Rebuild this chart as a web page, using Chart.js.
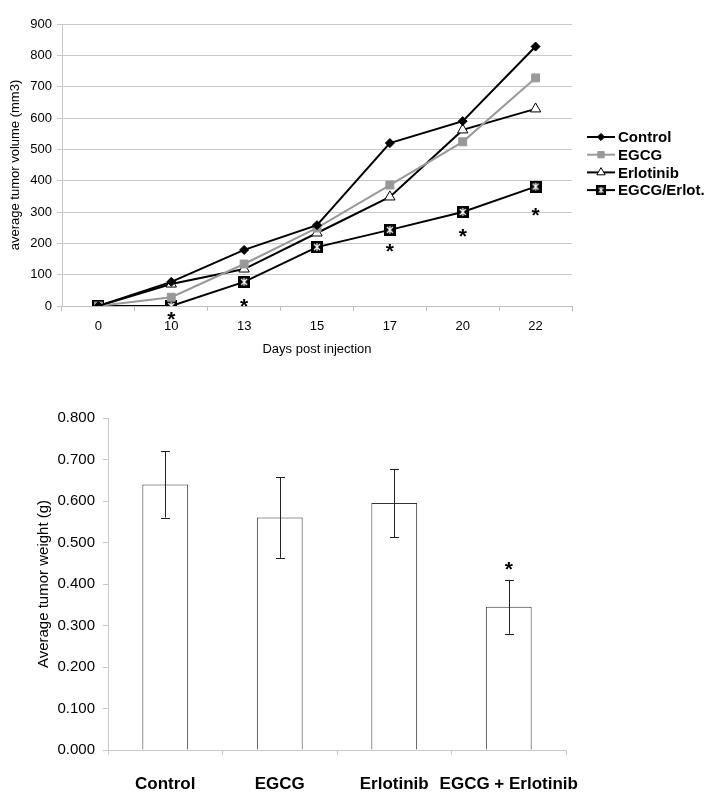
<!DOCTYPE html>
<html>
<head>
<meta charset="utf-8">
<script src="https://cdn.jsdelivr.net/npm/chart.js@4.4.1/dist/chart.umd.min.js"></script>
<style>
  body { margin: 0; background: #fff; }
  canvas { display: block; }
</style>
</head>
<body>
<canvas id="volumeChart" width="712" height="365"></canvas>
<canvas id="weightChart" width="712" height="431"></canvas>
<script>
// tumor volume (top)
var days = ['0', '10', '13', '15', '17', '20', '22'];
var control = [0, 77, 179, 258, 520, 590, 828];
var egcg = [0, 28, 134, 249, 386, 524, 728];
var erlotinib = [0, 70, 118, 233, 348, 562, 629];
var combo = [0, 0, 77, 188, 243, 300, 381];
var volumeStars = [null, -32, 10, null, 185, 233, 300];

// tumor weight (bottom)
var groups = ['Control', 'EGCG', 'Erlotinib', 'EGCG + Erlotinib'];
var weights = [0.640, 0.560, 0.595, 0.345];
var weightErr = [0.080, 0.097, 0.082, 0.065];
var weightStars = [null, null, null, 0.443];

Chart.defaults.font.family = "'Liberation Sans', Arial, sans-serif";
Chart.defaults.color = '#000';
Chart.defaults.animation = false;

function comboMarker(size) {
  var c = document.createElement('canvas');
  c.width = size; c.height = size;
  var g = c.getContext('2d');
  g.fillStyle = '#000';
  g.fillRect(0, 0, size, size);
  g.strokeStyle = '#fff';
  g.lineWidth = 1.2;
  var p = size * 0.25, q = size - p;
  g.beginPath();
  g.moveTo(p, p); g.lineTo(q, q);
  g.moveTo(q, p); g.lineTo(p, q);
  g.moveTo(size / 2, p - 1); g.lineTo(size / 2, q + 1);
  g.stroke();
  return c;
}

function drawMarker(ctx, ds, x, y, k) {
  var r = ds.pointRadius * k;
  ctx.save();
  ctx.fillStyle = ds.pointBackgroundColor;
  ctx.strokeStyle = ds.pointBorderColor;
  ctx.lineWidth = 1;
  if (ds.pointStyle instanceof HTMLCanvasElement) {
    var s = ds.pointStyle.width * k;
    ctx.drawImage(ds.pointStyle, x - s / 2, y - s / 2, s, s);
  } else {
    ctx.beginPath();
    if (ds.pointStyle === 'rectRot') {
      ctx.moveTo(x, y - r); ctx.lineTo(x + r, y); ctx.lineTo(x, y + r); ctx.lineTo(x - r, y);
    } else if (ds.pointStyle === 'rect') {
      var h = r * Math.SQRT1_2;
      ctx.rect(x - h, y - h, 2 * h, 2 * h);
    } else {
      ctx.moveTo(x, y - r); ctx.lineTo(x + r * 0.866, y + r * 0.5); ctx.lineTo(x - r * 0.866, y + r * 0.5);
    }
    ctx.closePath();
    ctx.fill();
    ctx.stroke();
  }
  ctx.restore();
}

function drawStars(chart, stars, size) {
  var ctx = chart.ctx, xs = chart.scales.x, ys = chart.scales.y;
  ctx.save();
  ctx.font = 'bold ' + size + "px 'Liberation Sans', Arial, sans-serif";
  ctx.fillStyle = '#000';
  ctx.textAlign = 'center';
  ctx.textBaseline = 'alphabetic';
  var m = ctx.measureText('*');
  var shift = (m.actualBoundingBoxAscent - m.actualBoundingBoxDescent) / 2;
  stars.forEach(function (v, i) {
    if (v === null) return;
    ctx.fillText('*', xs.getPixelForValue(i), ys.getPixelForValue(v) + shift);
  });
  ctx.restore();
}

var volumeExtras = {
  id: 'volumeExtras',
  afterDatasetsDraw: function (chart) {
    drawStars(chart, volumeStars, 21);
  },
  afterDraw: function (chart) {
    var ctx = chart.ctx, area = chart.chartArea;
    var x0 = area.right + 15, x1 = area.right + 43, y0 = 137;
    ctx.save();
    ctx.font = "bold 15px 'Liberation Sans', Arial, sans-serif";
    ctx.textBaseline = 'middle';
    chart.data.datasets.forEach(function (ds, i) {
      var y = y0 + i * 17.7;
      ctx.strokeStyle = ds.borderColor;
      ctx.lineWidth = 2;
      ctx.beginPath(); ctx.moveTo(x0, y); ctx.lineTo(x1, y); ctx.stroke();
      drawMarker(ctx, ds, (x0 + x1) / 2, y, 0.8);
      ctx.fillStyle = '#000';
      ctx.fillText(ds.label, x1 + 3, y + 1);
    });
    ctx.restore();
  }
};

function lineSet(label, data, color, style, radius, fill) {
  return {
    label: label, data: data, borderColor: color, borderWidth: 2,
    pointStyle: style, pointRadius: radius, pointHoverRadius: radius,
    pointBackgroundColor: fill, pointBorderColor: color, pointBorderWidth: 1,
    tension: 0
  };
}

new Chart(document.getElementById('volumeChart'), {
  type: 'line',
  data: {
    labels: days,
    datasets: [
      lineSet('Control', control, '#000', 'rectRot', 4.5, '#000'),
      lineSet('EGCG', egcg, '#999', 'rect', 5.6, '#999'),
      lineSet('Erlotinib', erlotinib, '#000', 'triangle', 6, '#fff'),
      lineSet('EGCG/Erlot.', combo, '#000', comboMarker(12), 6, '#000')
    ]
  },
  options: {
    responsive: false,
    layout: { padding: { left: 0, right: 140, top: 24, bottom: 0 } },
    plugins: { legend: { display: false }, tooltip: { enabled: false } },
    scales: {
      x: {
        offset: true,
        grid: { offset: true, drawOnChartArea: false, tickLength: 5, color: '#bdbdbd' },
        border: { color: '#bdbdbd' },
        ticks: { font: { size: 13 }, padding: 8 },
        title: { display: true, text: 'Days post injection', font: { size: 13 }, padding: { top: 0, bottom: 8 } },
        afterFit: function (s) { s.height = 59; }
      },
      y: {
        min: 0, max: 900,
        ticks: { stepSize: 100, font: { size: 13 }, padding: 5 },
        grid: { color: '#c8c8c8', tickLength: 5 },
        border: { color: '#c8c8c8' },
        title: { display: true, text: 'average tumor volume (mm3)', font: { size: 13 }, padding: { top: 8, bottom: 0 } },
        afterFit: function (s) { s.width = 62; }
      }
    }
  },
  plugins: [volumeExtras]
});

var weightExtras = {
  id: 'weightExtras',
  afterDatasetsDraw: function (chart) {
    var ctx = chart.ctx, xs = chart.scales.x, ys = chart.scales.y;
    ctx.save();
    ctx.strokeStyle = '#222';
    ctx.lineWidth = 1;
    weights.forEach(function (v, i) {
      var x = Math.round(xs.getPixelForValue(i)) + 0.5;
      var top = ys.getPixelForValue(v + weightErr[i]);
      var bot = ys.getPixelForValue(v - weightErr[i]);
      ctx.beginPath();
      ctx.moveTo(x, top); ctx.lineTo(x, bot);
      ctx.moveTo(x - 4.5, Math.round(top) + 0.5); ctx.lineTo(x + 4.5, Math.round(top) + 0.5);
      ctx.moveTo(x - 4.5, Math.round(bot) + 0.5); ctx.lineTo(x + 4.5, Math.round(bot) + 0.5);
      ctx.stroke();
    });
    ctx.restore();
    drawStars(chart, weightStars, 21);
  }
};

new Chart(document.getElementById('weightChart'), {
  type: 'bar',
  data: {
    labels: groups,
    datasets: [{
      label: 'Average tumor weight (g)',
      data: weights,
      backgroundColor: '#fff',
      borderColor: '#333',
      borderWidth: 1,
      barPercentage: 0.4,
      categoryPercentage: 1
    }]
  },
  options: {
    responsive: false,
    layout: { padding: { left: 0, right: 146, top: 53, bottom: 0 } },
    plugins: { legend: { display: false }, tooltip: { enabled: false } },
    scales: {
      x: {
        grid: { offset: true, drawOnChartArea: false, tickLength: 5, color: '#c8c8c8' },
        border: { color: '#c8c8c8' },
        ticks: { font: { size: 17, weight: 'bold' }, padding: 19, autoSkip: false, maxRotation: 0, minRotation: 0 },
        afterFit: function (s) { s.height = 46; }
      },
      y: {
        min: 0, max: 0.8,
        ticks: { stepSize: 0.1, font: { size: 15 }, padding: 8,
          callback: function (v) { return v.toFixed(3); } },
        grid: { drawOnChartArea: false, tickLength: 5, color: '#c8c8c8' },
        border: { color: '#c8c8c8' },
        title: { display: true, text: 'Average tumor weight (g)', font: { size: 15 }, padding: { top: 35, bottom: 0 } },
        afterFit: function (s) { s.width = 108; }
      }
    }
  },
  plugins: [weightExtras]
});
</script>
</body>
</html>
